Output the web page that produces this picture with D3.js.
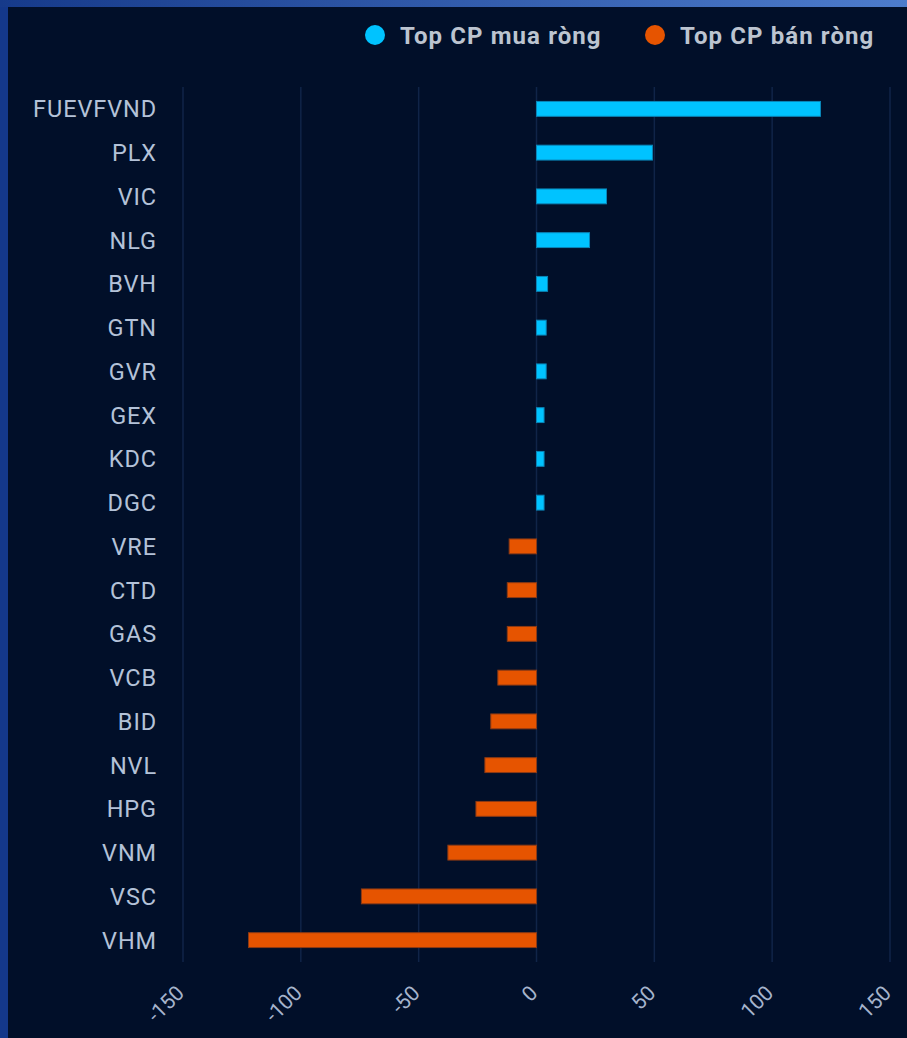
<!DOCTYPE html>
<html><head><meta charset="utf-8">
<script src="https://cdn.jsdelivr.net/npm/d3@7"></script>
<style>
html,body{margin:0;padding:0;background:#010f29;}
svg{display:block;}
</style></head>
<body>
<script>
const categories = ["FUEVFVND","PLX","VIC","NLG","BVH","GTN","GVR","GEX","KDC","DGC","VRE","CTD","GAS","VCB","BID","NVL","HPG","VNM","VSC","VHM"];
const values = [120.5, 49.2, 29.7, 22.5, 4.7, 4.1, 4.1, 3.2, 3.2, 3.2, -11.6, -12.4, -12.4, -16.4, -19.4, -21.9, -25.7, -37.6, -74.3, -122.2];
const tickValues = [-150, -100, -50, 0, 50, 100, 150];
const seriesNames = ["Top CP mua ròng", "Top CP bán ròng"];
const seriesColors = ["#00c3ff", "#e65400"];

const W = 907, H = 1038;
const svg = d3.select("body").append("svg").attr("width", W).attr("height", H);

const defs = svg.append("defs");
const g1 = defs.append("linearGradient").attr("id","topband").attr("x1","0").attr("x2","1");
g1.append("stop").attr("offset","0").attr("stop-color","#163a8a");
g1.append("stop").attr("offset","1").attr("stop-color","#4d7ccc");

svg.append("rect").attr("width", W).attr("height", H).attr("fill", "#010f29");
svg.append("rect").attr("x",0).attr("y",0).attr("width",8).attr("height",H).attr("fill","#14388a");
svg.append("rect").attr("x",0).attr("y",0).attr("width",W).attr("height",7).attr("fill","url(#topband)");

const x = d3.scaleLinear().domain([-150, 150]).range([183, 890]);
const y = d3.scaleBand().domain(categories).range([87, 962]).paddingInner(0.66).paddingOuter(0.33);

// grid
svg.append("g").selectAll("line").data(tickValues).join("line")
  .attr("x1", d => x(d)).attr("x2", d => x(d))
  .attr("y1", 87).attr("y2", 962)
  .attr("stroke", "#102448").attr("stroke-width", 1.5);

// bars
svg.append("g").selectAll("rect").data(categories).join("rect")
  .attr("x", (c,i) => x(Math.min(0, values[i])))
  .attr("width", (c,i) => Math.abs(x(values[i]) - x(0)))
  .attr("y", c => y(c))
  .attr("height", y.bandwidth())
  .attr("fill", (c,i) => values[i] >= 0 ? seriesColors[0] : seriesColors[1])
  .attr("stroke", (c,i) => values[i] >= 0 ? "#0a86b8" : "#8c3a14")
  .attr("stroke-width", 1);

// category labels
svg.append("g").selectAll("text").data(categories).join("text")
  .attr("x", 157).attr("y", c => y(c) + y.bandwidth()/2)
  .attr("dy", "0.36em")
  .attr("text-anchor", "end")
  .attr("font-family", "Roboto, sans-serif")
  .attr("font-size", 23.5)
  .attr("letter-spacing", 0.9)
  .attr("fill", "#b4c2d8")
  .text(c => c);

// x tick labels (rotated)
svg.append("g").selectAll("text").data(tickValues).join("text")
  .attr("transform", d => `translate(${x(d)-8},${984}) rotate(-45)`)
  .attr("text-anchor", "end")
  .attr("dy", "0.7em")
  .attr("font-family", "Roboto, sans-serif")
  .attr("font-size", 21)
  .attr("fill", "#a6b4cc")
  .text(d => d);

// legend
const legendX = [375, 655];
const lg = svg.append("g");
seriesNames.forEach((s, i) => {
  lg.append("circle").attr("cx", legendX[i]).attr("cy", 35).attr("r", 10).attr("fill", seriesColors[i]);
  lg.append("text").attr("x", legendX[i] + 25).attr("y", 35).attr("dy", "0.36em")
    .attr("font-family", "Roboto, sans-serif").attr("font-weight", "bold").attr("font-size", 24)
    .attr("letter-spacing", 1.1)
    .attr("fill", "#bcc4d0").text(s);
});
</script>
</body></html>
